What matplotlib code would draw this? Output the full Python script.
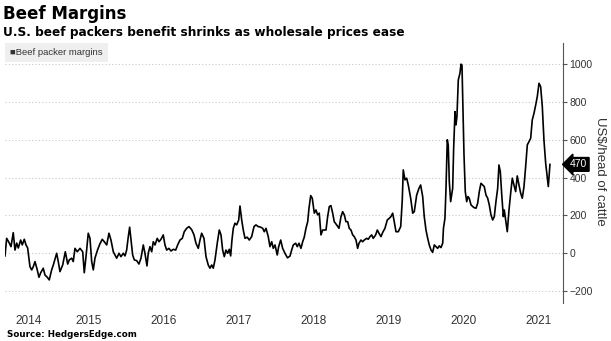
import matplotlib
matplotlib.use("Agg")
import matplotlib.pyplot as plt
from matplotlib.patches import Rectangle

# ---------------- data (weekly-ish margins, US$/head) ----------------
years = [
    2014.380, 2014.402, 2014.437, 2014.460, 2014.490, 2014.513, 2014.536, 2014.557,
    2014.589, 2014.610, 2014.637, 2014.660, 2014.682, 2014.713, 2014.736, 2014.757,
    2014.780, 2014.810, 2014.833, 2014.856, 2014.890, 2014.913, 2014.944, 2014.970,
    2015.002, 2015.024, 2015.069, 2015.090, 2015.113, 2015.149, 2015.184, 2015.216,
    2015.237, 2015.269, 2015.290, 2015.313, 2015.344, 2015.380, 2015.416, 2015.437,
    2015.460, 2015.490, 2015.513, 2015.536, 2015.557, 2015.580, 2015.616, 2015.646,
    2015.677, 2015.704, 2015.736, 2015.766, 2015.793, 2015.824, 2015.846, 2015.869,
    2015.900, 2015.926, 2015.957, 2015.980, 2016.002, 2016.024, 2016.042, 2016.060,
    2016.082, 2016.104, 2016.136, 2016.166, 2016.193, 2016.224, 2016.246, 2016.273,
    2016.290, 2016.313, 2016.336, 2016.357, 2016.380, 2016.410, 2016.433, 2016.460,
    2016.490, 2016.513, 2016.536, 2016.566, 2016.593, 2016.624, 2016.656, 2016.682,
    2016.713, 2016.744, 2016.770, 2016.802, 2016.833, 2016.869, 2016.900, 2016.926,
    2016.957, 2016.980, 2017.002, 2017.033, 2017.060, 2017.090, 2017.113, 2017.136,
    2017.157, 2017.180, 2017.210, 2017.237, 2017.260, 2017.282, 2017.304, 2017.326,
    2017.349, 2017.370, 2017.389, 2017.406, 2017.424, 2017.446, 2017.469, 2017.496,
    2017.513, 2017.536, 2017.557, 2017.580, 2017.610, 2017.637, 2017.669, 2017.700,
    2017.726, 2017.757, 2017.789, 2017.816, 2017.837, 2017.860, 2017.890, 2017.913,
    2017.936, 2017.957, 2017.980, 2018.010, 2018.029, 2018.056, 2018.082, 2018.113,
    2018.146, 2018.180, 2018.202, 2018.224, 2018.256, 2018.277, 2018.300, 2018.326,
    2018.349, 2018.370, 2018.393, 2018.416, 2018.433, 2018.456, 2018.477, 2018.504,
    2018.526, 2018.549, 2018.570, 2018.593, 2018.616, 2018.637, 2018.660, 2018.682,
    2018.704, 2018.726, 2018.749, 2018.770, 2018.802, 2018.833, 2018.860, 2018.882,
    2018.904, 2018.926, 2018.949, 2018.970, 2018.993, 2019.016, 2019.037, 2019.060,
    2019.082, 2019.100, 2019.126, 2019.149, 2019.170, 2019.202, 2019.224, 2019.246,
    2019.269, 2019.290, 2019.322, 2019.344, 2019.366, 2019.393, 2019.416, 2019.446,
    2019.477, 2019.504, 2019.526, 2019.549, 2019.570, 2019.593, 2019.624, 2019.656,
    2019.677, 2019.690, 2019.713, 2019.736, 2019.757, 2019.789, 2019.816, 2019.837,
    2019.869, 2019.900, 2019.922, 2019.949, 2019.970, 2019.993, 2020.016, 2020.037,
    2020.060, 2020.082, 2020.104, 2020.126, 2020.149, 2020.170, 2020.193, 2020.216,
    2020.226, 2020.246, 2020.260, 2020.277, 2020.290, 2020.304, 2020.322, 2020.336,
    2020.349, 2020.362, 2020.380, 2020.393, 2020.406, 2020.424, 2020.446, 2020.460,
    2020.473, 2020.482, 2020.500, 2020.517, 2020.536, 2020.553, 2020.570, 2020.593,
    2020.616, 2020.637, 2020.660, 2020.682, 2020.704, 2020.726, 2020.749, 2020.770,
    2020.793, 2020.816, 2020.837, 2020.860, 2020.882, 2020.904, 2020.926, 2020.949,
    2020.966, 2020.984, 2021.002, 2021.024, 2021.037, 2021.056, 2021.077, 2021.100,
    2021.122, 2021.144, 2021.166, 2021.189, 2021.210, 2021.233, 2021.256, 2021.277,
    2021.300, 2021.322, 2021.344, 2021.366, 2021.389, 2021.410, 2021.433, 2021.456,
    2021.477, 2021.500, 2021.522, 2021.544, 2021.566, 2021.589, 2021.610, 2021.624,
    2021.637, 2021.646,
]
margins = [
    -14, 79, 54, 35, 109, 17, 54, 28,
    70, 44, 74, 44, 28, -71, -88, -71,
    -44, -88, -127, -103, -79, -115, -127, -141,
    -88, -62, 0, -44, -97, -62, 8, -57,
    -35, -26, -44, 26, 8, 26, 8, -103,
    -18, 106, 79, -44, -88, -25, 20, 50,
    74, 61, 44, 106, 70, 8, -9, -26,
    0, -18, 0, -14, 17, 88, 138, 70,
    -9, -35, -39, -57, -26, 44, 0, -67,
    0, 35, 8, 61, 44, 79, 61, 74,
    97, 44, 17, 26, 12, 21, 17, 44,
    70, 79, 114, 132, 141, 125, 97, 53,
    26, 70, 106, 79, -18, -62, -79, -62,
    -79, -35, 53, 123, 97, 17, -18, 17,
    0, 21, -14, 70, 132, 159, 150, 176,
    250, 176, 123, 79, 85, 70, 88, 141,
    150, 141, 138, 132, 114, 132, 88, 35,
    61, 26, 44, -9, 35, 70, 26, 0,
    -24, -15, 17, 44, 53, 35, 53, 26,
    61, 85, 132, 167, 238, 305, 291, 212,
    229, 203, 212, 97, 123, 123, 123, 194,
    247, 252, 212, 167, 150, 132, 194, 220,
    203, 167, 167, 132, 123, 97, 88, 70,
    26, 53, 70, 61, 70, 79, 74, 88,
    97, 79, 97, 123, 106, 88, 110, 132,
    176, 185, 194, 212, 167, 114, 114, 141,
    282, 441, 388, 397, 361, 291, 212, 220,
    308, 344, 361, 300, 194, 123, 79, 44,
    17, 5, 44, 35, 26, 39, 30, 53,
    132, 185, 344, 600, 573, 379, 273, 308,
    344, 555, 749, 679, 723, 917, 952, 1000,
    995, 837, 520, 326, 273, 300, 291, 256,
    247, 241, 238, 264, 326, 370, 361, 353,
    308, 291, 256, 203, 176, 194, 273, 344,
    467, 432, 317, 194, 229, 176, 114, 229,
    317, 397, 361, 326, 409, 361, 317, 291,
    353, 458, 573, 590, 608, 705, 740, 784,
    828, 899, 881, 776, 599, 476, 405, 353,
    423, 470,
]

year_labels = ["2014", "2015", "2016", "2017", "2018", "2019", "2020", "2021"]
year_label_pos = [2014.70, 2015.5, 2016.5, 2017.5, 2018.5, 2019.5, 2020.5, 2021.5]
y_ticks = [-200, 0, 200, 400, 600, 800, 1000]
last_value = 470

TXT = "#333333"
SANS = ["Liberation Sans", "DejaVu Sans"]

fig = plt.figure(figsize=(6.11, 3.41), dpi=100)
ax = fig.add_axes([5 / 611, 38 / 341, 558 / 611, 260 / 341])

ax.plot(years, margins, color="black", linewidth=1.2, solid_joinstyle="round")

ax.set_xlim(2014.38, 2021.82)
ax.set_ylim(-263, 1112)

ax.set_yticks(y_ticks)
ax.yaxis.tick_right()
ax.set_xticks(year_label_pos)
ax.set_xticklabels(year_labels)

ax.grid(axis="y", linestyle=(0, (1, 2)), color="#c8c8c8", linewidth=0.8)
ax.set_axisbelow(True)

for side in ["left", "top", "bottom"]:
    ax.spines[side].set_visible(False)
ax.spines["right"].set_color("#555555")
ax.spines["right"].set_linewidth(0.8)

ax.tick_params(axis="x", length=0, pad=9, labelsize=8.5, labelcolor=TXT)
ax.tick_params(axis="y", length=3, width=0.8, color="#555555", pad=1.5,
               labelsize=7.5, labelcolor=TXT)
for lab in ax.get_xticklabels() + ax.get_yticklabels():
    lab.set_family(SANS)

# last value badge
ax.annotate(str(last_value), xy=(1, last_value), xycoords=("axes fraction", "data"),
            xytext=(5, 0), textcoords="offset points", ha="left", va="center",
            color="white", fontsize=7.5, family=SANS,
            bbox=dict(boxstyle="larrow,pad=0.18", fc="black", ec="black"),
            annotation_clip=False)

# axis title
fig.text(600 / 611, 0.496, "US$/head of cattle", rotation=270, ha="center", va="center",
         fontsize=9.5, color=TXT, family=SANS)

# titles
fig.text(3 / 611, 0.944, "Beef Margins", fontsize=12, fontweight="bold",
         family="DejaVu Sans", va="baseline", ha="left", color="black")
fig.text(3 / 611, 0.894, "U.S. beef packers benefit shrinks as wholesale prices ease",
         fontsize=8.7, fontweight="bold", family="DejaVu Sans", va="baseline",
         ha="left", color="black")

# legend box
fig.patches.append(Rectangle((5 / 611, (341 - 62) / 341), 103 / 611, 19 / 341,
                             transform=fig.transFigure, facecolor="#efefef",
                             edgecolor="none", zorder=0))
fig.text(10 / 611, (341 - 52.5) / 341, "\u25a0Beef packer margins", fontsize=6.8,
         family=SANS, va="center", ha="left", color=TXT)

# source
fig.text(7 / 611, 4 / 341, "Source: HedgersEdge.com", fontsize=6.3,
         fontweight="bold", family="DejaVu Sans", va="baseline", ha="left",
         color="black")

fig.savefig("out.png", dpi=100)
